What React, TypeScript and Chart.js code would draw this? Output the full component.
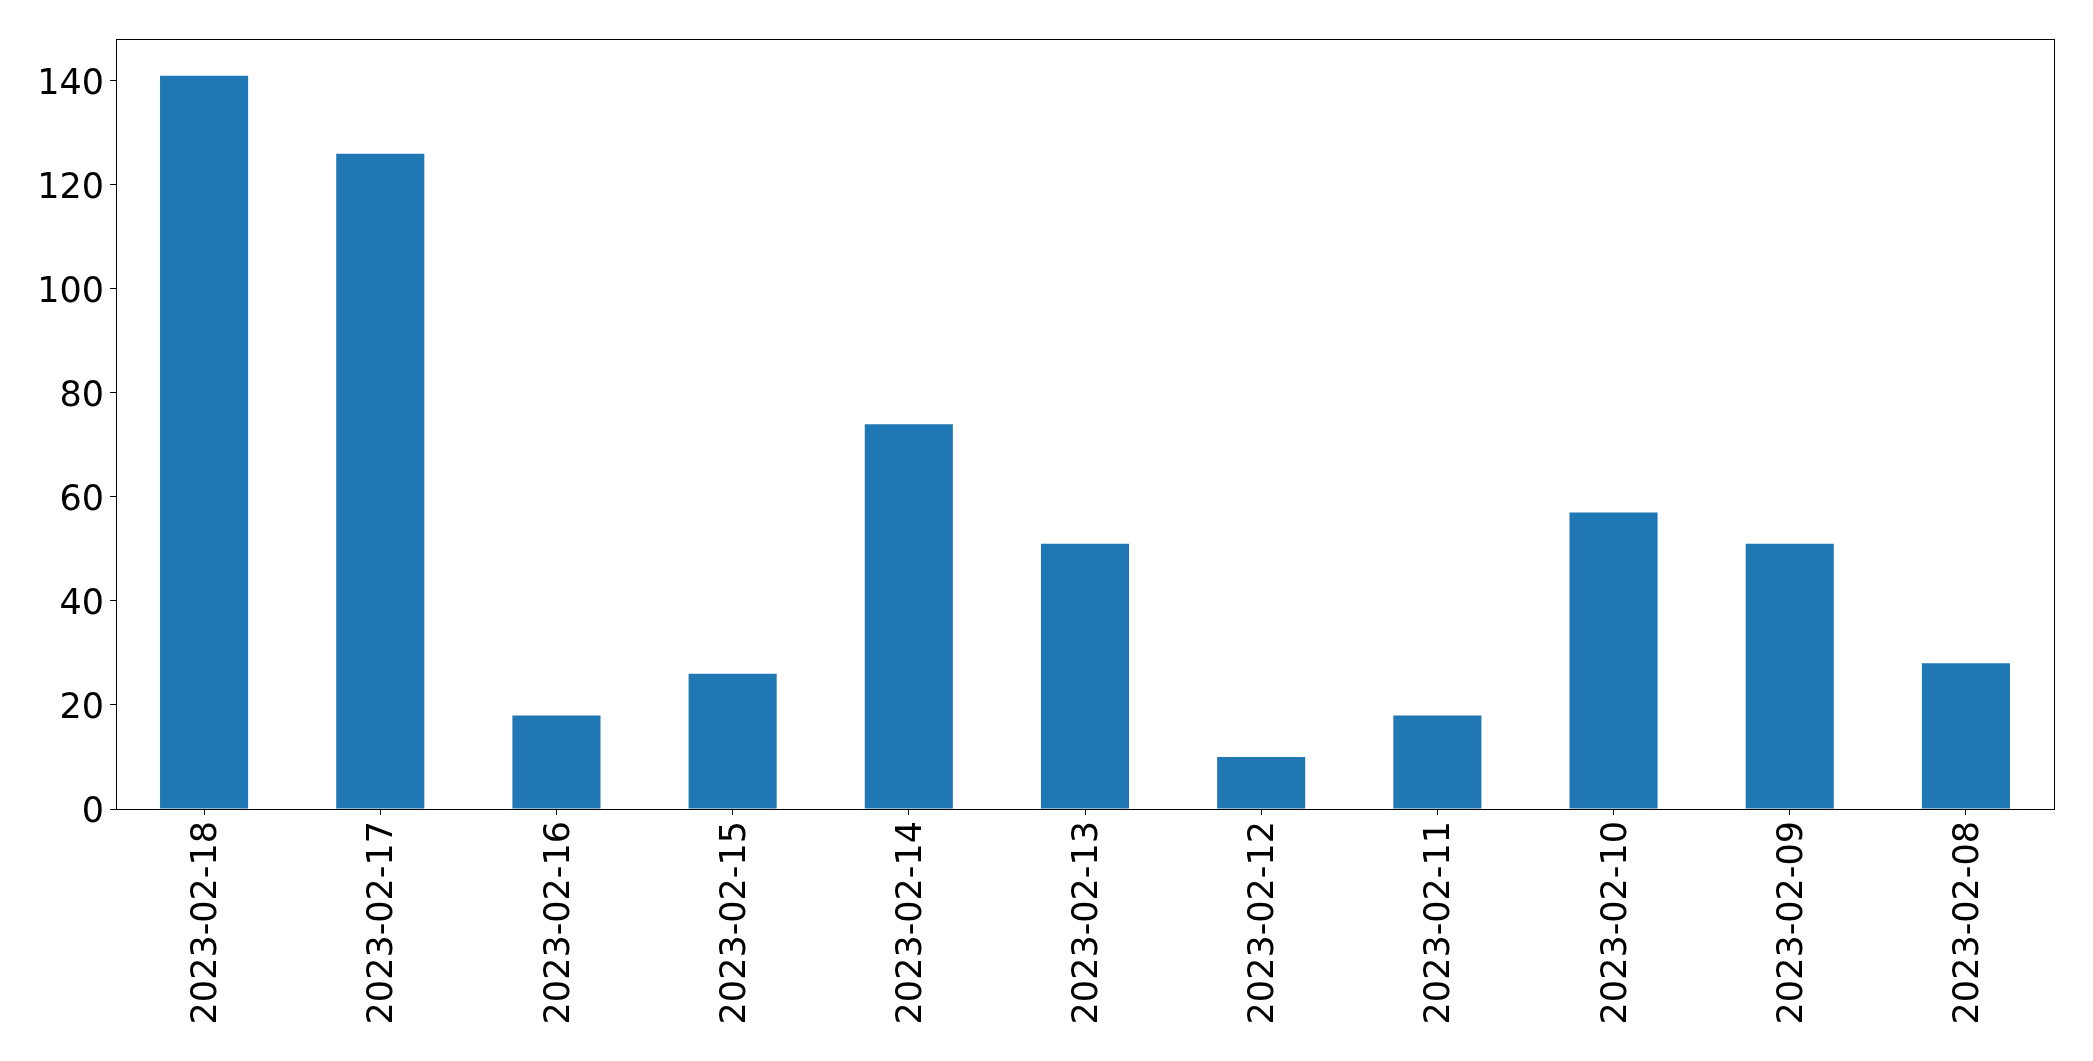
import React, { useEffect, useRef } from "react";
import { Chart, registerables } from "chart.js";

Chart.register(...registerables);

const categories = [
  "2023-02-18",
  "2023-02-17",
  "2023-02-16",
  "2023-02-15",
  "2023-02-14",
  "2023-02-13",
  "2023-02-12",
  "2023-02-11",
  "2023-02-10",
  "2023-02-09",
  "2023-02-08",
];
const values = [141, 126, 18, 26, 74, 51, 10, 18, 57, 51, 28];
const yTickStep = 20;

const W = 2093;
const H = 1061;

const frame = {
  id: "frame",
  afterDatasetsDraw(chart: any) {
    const { ctx, chartArea } = chart;
    ctx.save();
    ctx.strokeStyle = "#000";
    ctx.lineWidth = 1;
    ctx.strokeRect(
      Math.round(chartArea.left) + 0.5,
      Math.round(chartArea.top) + 0.5,
      Math.round(chartArea.right - chartArea.left),
      Math.round(chartArea.bottom - chartArea.top)
    );
    ctx.restore();
  },
};

function shiftLabels(dx: number, dy: number) {
  return (scale: any) => {
    if (scale.__shifted) return;
    const orig = scale.drawLabels.bind(scale);
    scale.drawLabels = (area: any) => {
      const ctx = scale.ctx;
      ctx.save();
      ctx.translate(dx, dy);
      orig(area);
      ctx.restore();
    };
    scale.__shifted = true;
  };
}

export default function App() {
  const ref = useRef<HTMLCanvasElement | null>(null);
  useEffect(() => {
    if (!ref.current) return;
    const font = { family: "DejaVu Sans", size: 35 };
    const maxV = Math.max(...values);
    const chart = new Chart(ref.current, {
      type: "bar",
      data: {
        labels: categories,
        datasets: [
          {
            data: values,
            backgroundColor: "#1f77b4",
            barPercentage: 0.5,
            categoryPercentage: 1,
          },
        ],
      },
      options: {
        responsive: false,
        animation: false,
        devicePixelRatio: 1,
        layout: { padding: { top: 39, right: 39, left: 0, bottom: 0 } },
        plugins: { legend: { display: false }, tooltip: { enabled: false } },
        scales: {
          x: {
            offset: true,
            grid: {
              display: true,
              offset: false,
              drawOnChartArea: false,
              drawTicks: true,
              tickLength: 6,
              tickColor: "#000",
            },
            border: { display: true, color: "#000", width: 1 },
            ticks: {
              color: "#000",
              font,
              minRotation: 90,
              maxRotation: 90,
              autoSkip: false,
              padding: 6,
            },
            afterFit(scale: any) {
              scale.height = 252;
            },
            afterUpdate: shiftLabels(3, 0),
          },
          y: {
            min: 0,
            max: maxV * 1.05,
            grid: {
              display: true,
              drawOnChartArea: false,
              drawTicks: true,
              tickLength: 6,
              tickColor: "#000",
            },
            border: { display: true, color: "#000", width: 1 },
            ticks: {
              color: "#000",
              font,
              stepSize: yTickStep,
              includeBounds: false,
              padding: 6,
            },
            afterFit(scale: any) {
              scale.width = 116;
            },
            afterUpdate: shiftLabels(0, 4),
          },
        },
      },
      plugins: [frame],
    });
    return () => chart.destroy();
  }, []);
  return (
    <div style={{ position: "absolute", left: 0, top: 0, width: W, height: H, background: "#fff" }}>
      <canvas ref={ref} width={W} height={H} style={{ display: "block" }} />
    </div>
  );
}
